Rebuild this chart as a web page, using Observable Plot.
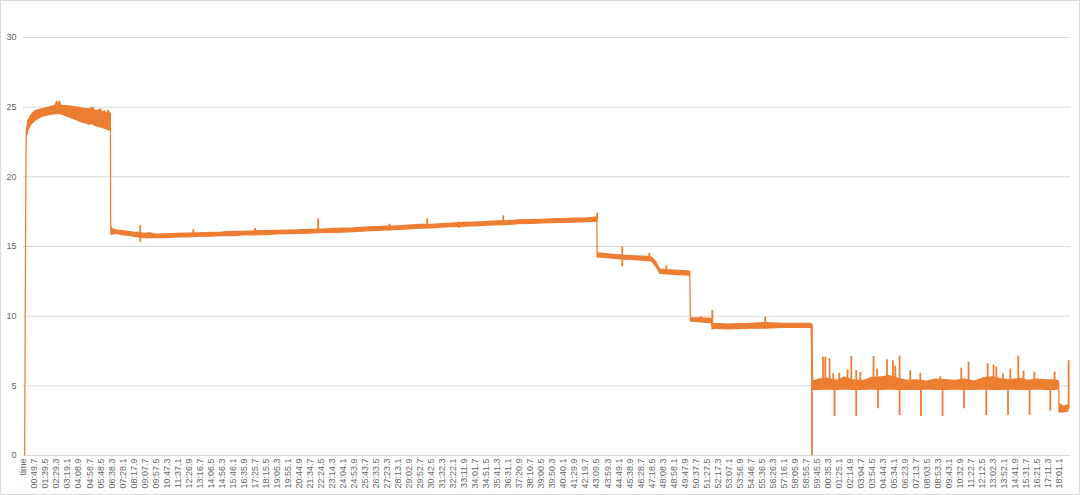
<!DOCTYPE html>
<html><head><meta charset="utf-8">
<script src="https://cdn.jsdelivr.net/npm/d3@7"></script>
<script src="https://cdn.jsdelivr.net/npm/@observablehq/plot@0.6"></script>
<style>
html,body{margin:0;padding:0;background:#fff;}
#chart svg{display:block;outline:1px solid #d9d9d9;outline-offset:-1px;}
</style></head><body><div id="chart"></div>
<script>
// Category tick labels (index 0 = "time")
const timeLabels = ["time","00:49.7","01:39.5","02:29.3","03:19.1","04:08.9","04:58.7","05:48.5","06:38.3","07:28.1","08:17.9","09:07.7","09:57.5","10:47.3","11:37.1","12:26.9","13:16.7","14:06.5","14:56.3","15:46.1","16:35.9","17:25.7","18:15.5","19:05.3","19:55.1","20:44.9","21:34.7","22:24.5","23:14.3","24:04.1","24:53.9","25:43.7","26:33.5","27:23.3","28:13.1","29:02.9","29:52.7","30:42.5","31:32.3","32:22.1","33:11.9","34:01.7","34:51.5","35:41.3","36:31.1","37:20.9","38:10.7","39:00.5","39:50.3","40:40.1","41:29.9","42:19.7","43:09.5","43:59.3","44:49.1","45:38.9","46:28.7","47:18.5","48:08.3","48:58.1","49:47.9","50:37.7","51:27.5","52:17.3","53:07.1","53:56.9","54:46.7","55:36.5","56:26.3","57:16.1","58:05.9","58:55.7","59:45.5","00:35.3","01:25.1","02:14.9","03:04.7","03:54.5","04:44.3","05:34.1","06:23.9","07:13.7","08:03.5","08:53.3","09:43.1","10:32.9","11:22.7","12:12.5","13:02.3","13:52.1","14:41.9","15:31.7","16:21.5","17:11.3","18:01.1"];
const yTicks = [0,5,10,15,20,25,30];

// Noisy band of the series: position (in category index units), lower and upper envelope
const bandX  = [0.15,0.20,0.25,0.29,0.43,0.70,1.06,1.67,2.24,2.90,3.05,3.15,3.30,3.45,4.06,4.70,5.33,6.00,6.30,6.50,6.78,7.00,7.20,7.40,7.60,7.69,7.93,7.96,
  8.05,8.5,9.0,9.5,10.0,10.5,11.0,11.5,12.0,13.0,14.0,15.0,16.0,17.0,18.0,19.0,20.0,21.0,22.0,23.0,24.0,25.0,26.0,27.0,28.0,29.0,30.0,31.0,32.0,33.0,34.0,35.0,36.0,37.0,38.0,39.0,40.0,41.0,42.0,43.0,44.0,45.0,46.0,47.0,48.0,49.0,50.0,51.0,52.07,
  52.09,52.15,53.50,54.33,55.50,56.78,57.05,57.40,57.78,58.32,59.50,60.50,60.56,60.68,61.50,62.45,62.55,64.00,66.00,67.30,69.00,71.40,71.50,
  71.66,72.20,73.00,73.80,74.50,75.30,76.20,77.00,77.80,78.60,79.40,80.20,81.00,82.00,82.80,83.80,84.60,85.40,86.30,87.20,88.00,88.80,89.60,90.40,91.20,92.00,92.80,93.60,93.98,94.00,94.40,94.80];
const bandLo = [0,10,18.5,22.8,23.3,23.7,24.0,24.3,24.4,24.5,24.5,24.55,24.5,24.5,24.3,24.1,23.9,23.75,23.8,23.65,23.6,23.55,23.5,23.45,23.4,23.35,23.3,15.9,
  15.85,15.9,15.8,15.78,15.7,15.65,15.6,15.62,15.6,15.6,15.65,15.66,15.7,15.7,15.75,15.74,15.8,15.8,15.82,15.86,15.88,15.9,15.93,15.95,15.98,16.0,16.03,16.08,16.12,16.15,16.2,16.23,16.28,16.3,16.35,16.38,16.42,16.45,16.5,16.52,16.55,16.6,16.62,16.65,16.68,16.7,16.72,16.75,16.78,
  14.2,14.22,14.12,14.08,14.02,13.95,13.9,13.55,13.05,13.0,12.95,12.9,9.6,9.6,9.55,9.5,9.1,9.05,9.1,9.1,9.15,9.15,9.15,
  4.7,4.7,4.75,4.7,4.75,4.7,4.7,4.75,4.7,4.75,4.7,4.7,4.7,4.75,4.7,4.7,4.75,4.7,4.7,4.75,4.7,4.7,4.75,4.7,4.7,4.75,4.7,4.7,4.75,3.1,3.1,3.15];
const bandHi = [0,10.3,19,23.2,24.0,24.4,24.7,24.85,24.95,25.1,25.4,25.1,25.4,25.1,25.05,25.0,24.9,24.85,24.95,24.7,24.75,24.85,24.6,24.7,24.5,24.75,24.5,16.5,
  16.25,16.15,16.1,16.05,16.0,15.98,15.9,15.95,15.85,15.88,15.9,15.92,15.95,15.98,16.0,16.05,16.05,16.08,16.1,16.12,16.15,16.16,16.2,16.22,16.25,16.28,16.3,16.35,16.4,16.42,16.45,16.5,16.55,16.55,16.6,16.65,16.7,16.72,16.75,16.8,16.82,16.88,16.9,16.92,16.95,16.97,17.0,17.0,17.1,
  14.5,14.5,14.4,14.35,14.3,14.25,14.2,13.9,13.35,13.3,13.25,13.2,9.85,9.85,9.85,9.8,9.45,9.4,9.45,9.5,9.45,9.45,9.45,
  5.3,5.45,5.5,5.35,5.6,5.4,5.35,5.55,5.6,5.7,5.5,5.35,5.4,5.3,5.45,5.4,5.35,5.45,5.3,5.55,5.6,5.45,5.4,5.5,5.35,5.45,5.4,5.4,5.3,3.7,3.5,3.6];

// Individual spikes: position, low and high value
const spikeX  = [10.59,15.40,21.00,26.74,33.20,36.63,39.50,43.53,52.06,54.33,56.78,58.32,61.47,62.50,67.30,71.54,
  72.54,72.75,73.14,73.47,74.02,74.77,75.11,75.56,75.92,77.13,77.44,78.35,78.89,79.10,79.49,80.46,81.37,83.19,85.09,85.75,87.48,88.02,88.27,88.87,89.54,90.26,90.74,91.72,93.56,94.83,
  73.59,75.56,77.53,79.49,81.43,83.39,85.34,87.36,89.33,91.29,93.17];
const spikeLo = [15.3,15.8,15.9,16.0,16.1,16.3,16.3,16.5,16.8,13.55,14.0,13.0,9.6,9.0,9.2,0,
  5.0,5.0,5.0,5.0,5.0,5.0,5.0,5.0,5.0,5.0,5.0,5.0,5.0,5.0,5.0,5.0,5.0,5.0,5.0,5.0,5.0,5.0,5.0,5.0,5.0,5.0,5.0,5.0,5.0,3.3,
  2.8,2.8,3.35,2.87,2.8,2.8,3.35,2.87,2.87,2.87,3.2];
const spikeHi = [16.5,16.2,16.3,17.0,16.6,17.0,16.75,17.2,17.4,14.95,14.5,13.6,9.95,10.4,9.95,9.4,
  7.06,7.06,6.94,5.86,5.9,6.15,7.1,6.1,5.95,7.1,6.2,6.87,6.8,6.4,7.13,6.1,5.9,5.65,6.27,6.7,6.6,6.5,6.35,5.86,6.2,7.13,6.05,5.98,5.98,6.8,
  5.0,5.0,5.0,5.0,5.0,5.0,5.0,5.0,5.0,5.0,5.0];

const band = bandX.map((x,i)=>({x, lo: bandLo[i], hi: bandHi[i]}));
const spikes = spikeX.map((x,i)=>({x, lo: spikeLo[i], hi: spikeHi[i]}));
const tickIdx = timeLabels.map((d,i)=>i);
const orange = "#ED7D31";

const chart = Plot.plot({
  width: 1080, height: 495,
  marginLeft: 23, marginRight: 10, marginTop: 37, marginBottom: 40,
  style: {fontFamily: "'Liberation Sans', Arial, sans-serif", fontSize: "9px", color: "#666", background: "#fff"},
  x: {domain: [0, 95], ticks: tickIdx, tickFormat: i => timeLabels[i], tickRotate: -90, tickSize: 0, tickPadding: 3, label: null},
  y: {domain: [0, 30], ticks: yTicks, tickSize: 0, tickPadding: 7, label: null},
  marks: [
    Plot.gridY(yTicks.filter(v => v > 0), {stroke: "#d9d9d9", strokeOpacity: 1}),
    Plot.ruleY([0], {stroke: "#d9d9d9"}),
    Plot.areaY(band, {x: "x", y1: "lo", y2: "hi", fill: orange, stroke: orange, strokeWidth: 1.2, strokeLinejoin: "round"}),
    Plot.ruleX(spikes, {x: "x", y1: "lo", y2: "hi", stroke: orange, strokeWidth: 1.8})
  ]
});
document.getElementById("chart").appendChild(chart);
</script></body></html>
